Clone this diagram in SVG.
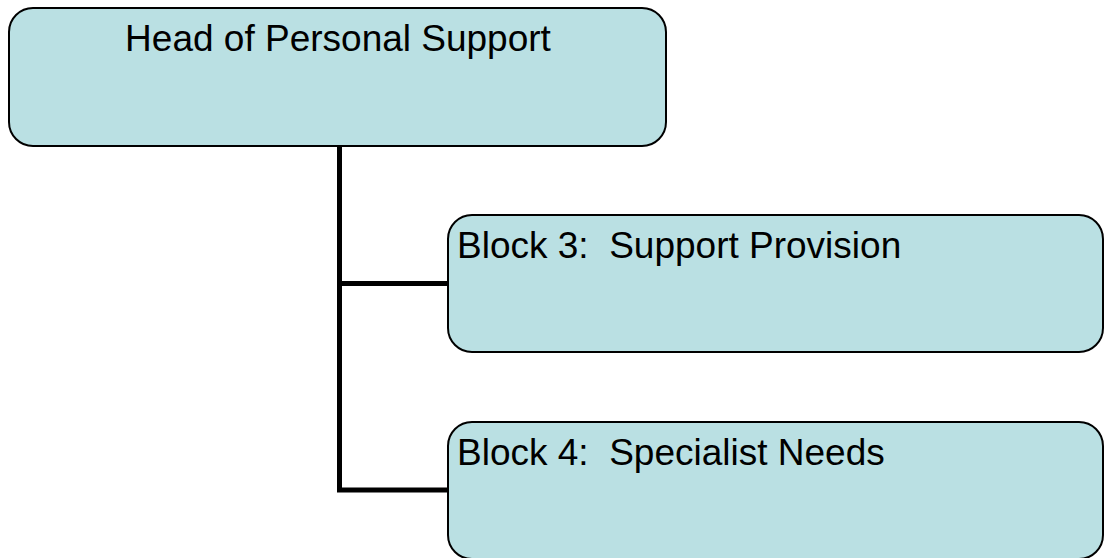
<svg xmlns="http://www.w3.org/2000/svg" width="1111" height="558" viewBox="0 0 1111 558">
<style>
.box{fill:#bae0e3;stroke:#000;stroke-width:2}
.lbl{font-family:"Liberation Sans",Arial,sans-serif;font-size:37px;fill:#000}
.conn{fill:none;stroke:#000;stroke-width:5}
</style>
<rect width="1111" height="558" fill="#fff"/>
<g id="connectors">
<path class="conn" d="M339.5 146 V490 H448"/>
<path class="conn" d="M339.5 283.5 H448"/>
</g>
<g id="head">
<rect class="box" x="9" y="8" width="657" height="138" rx="24"/>
<text class="lbl" x="338" y="51" text-anchor="middle">Head of Personal Support</text>
</g>
<g id="block3">
<rect class="box" x="448" y="215" width="655" height="137" rx="24"/>
<text class="lbl" x="457" y="257.5" xml:space="preserve">Block 3:  Support Provision</text>
</g>
<g id="block4">
<rect class="box" x="448" y="422" width="655" height="137" rx="24"/>
<text class="lbl" x="457" y="464.5" xml:space="preserve">Block 4:  Specialist Needs</text>
</g>
</svg>
